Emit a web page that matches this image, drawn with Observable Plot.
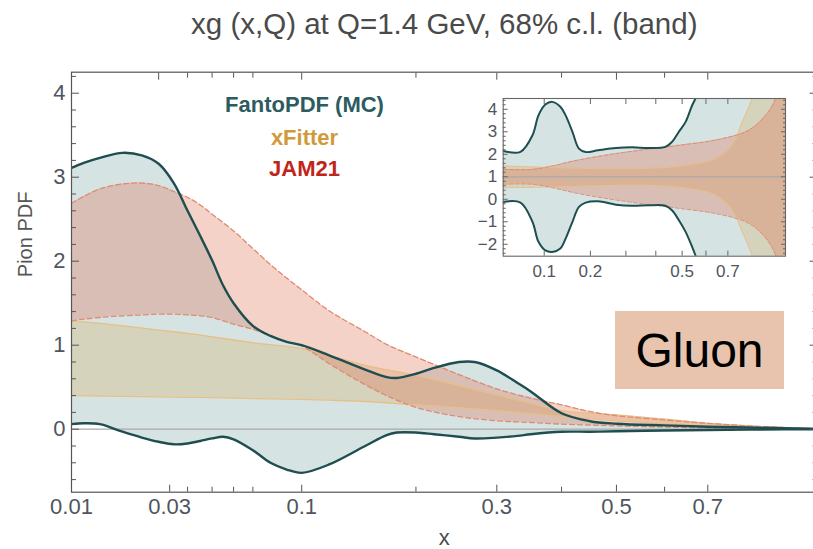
<!DOCTYPE html>
<html>
<head>
<meta charset="utf-8">
<script src="https://cdn.jsdelivr.net/npm/d3@7"></script>
<script src="https://cdn.jsdelivr.net/npm/@observablehq/plot@0.6"></script>
<style>
  body { margin: 0; background: #fff; }
  #chart { position: relative; width: 813px; height: 549px; overflow: hidden; background: #fff;
           font-family: "Liberation Sans", Arial, sans-serif; }
  #chart > svg { position: absolute; left: 0; top: 0; }
  #inset { position: absolute; left: 460px; top: 88px; }
  #inset svg { display: block; }
  #tag { position: absolute; left: 615px; top: 311px; width: 169px; height: 78px; background: #e8c3ad;
         color: #000; font-size: 48px; display: flex; align-items: center; justify-content: center; }
</style>
</head>
<body>
<div id="chart"><div id="inset"></div><div id="tag">Gluon</div></div>
<script>
// ---- Main panel: xg(x,Q) bands, Q = 1.4 GeV ----
const fantoX  = [0.01, 0.012, 0.015, 0.02, 0.025, 0.03, 0.035, 0.04, 0.045, 0.05, 0.055, 0.06, 0.07, 0.08, 0.09, 0.1,
                 0.12, 0.15, 0.17, 0.18, 0.2, 0.22, 0.25, 0.27, 0.3, 0.33, 0.35, 0.4, 0.45, 0.5, 0.6, 0.7, 0.8, 0.9, 1.0];
const fantoHi = [3.11, 3.17, 3.23, 3.29, 3.26, 3.16, 2.93, 2.60, 2.30, 2.01, 1.71, 1.50, 1.23, 1.11, 1.04, 1.00,
                 0.88, 0.71, 0.62, 0.61, 0.66, 0.73, 0.80, 0.80, 0.70, 0.55, 0.45, 0.19, 0.095, 0.065, 0.045, 0.03, 0.02, 0.012, 0.005];
const fantoLo = [0.06, 0.07, 0.06, -0.03, -0.10, -0.15, -0.18, -0.17, -0.14, -0.11, -0.09, -0.12, -0.25, -0.40, -0.48, -0.52,
                 -0.42, -0.20, -0.07, -0.04, -0.04, -0.06, -0.09, -0.11, -0.10, -0.08, -0.06, -0.03, -0.03, -0.025, -0.015, -0.01, -0.005, -0.002, 0];

const xfX  = [0.01, 0.015, 0.02, 0.03, 0.04, 0.05, 0.07, 0.1, 0.12, 0.15, 0.2, 0.25, 0.3, 0.35, 0.4, 0.5, 0.6, 0.7, 0.8, 0.9, 1.0];
const xfHi = [1.29, 1.26, 1.23, 1.18, 1.14, 1.10, 1.03, 0.96, 0.88, 0.76, 0.64, 0.52, 0.41, 0.31, 0.22, 0.17, 0.12, 0.07, 0.04, 0.02, 0.005];
const xfLo = [0.40, 0.395, 0.39, 0.385, 0.38, 0.375, 0.365, 0.355, 0.345, 0.33, 0.29, 0.255, 0.22, 0.185, 0.15, 0.10, 0.065, 0.04, 0.02, 0.01, 0];

const jamX  = [0.01, 0.012, 0.015, 0.02, 0.025, 0.03, 0.035, 0.04, 0.045, 0.05, 0.06, 0.07, 0.08, 0.09, 0.1,
               0.12, 0.15, 0.17, 0.2, 0.25, 0.3, 0.35, 0.4, 0.45, 0.5, 0.6, 0.7, 0.8, 0.9, 1.0];
const jamHi = [2.69, 2.77, 2.86, 2.92, 2.93, 2.90, 2.83, 2.76, 2.67, 2.56, 2.36, 2.15, 1.96, 1.80, 1.66,
               1.41, 1.16, 1.01, 0.86, 0.65, 0.48, 0.37, 0.29, 0.21, 0.16, 0.11, 0.07, 0.04, 0.02, 0.005];
const jamLo = [1.29, 1.31, 1.33, 1.35, 1.36, 1.37, 1.37, 1.36, 1.35, 1.33, 1.25, 1.19, 1.11, 1.04, 0.99,
               0.78, 0.53, 0.40, 0.26, 0.15, 0.10, 0.08, 0.06, 0.05, 0.04, 0.025, 0.015, 0.008, 0.003, 0];

// ---- Inset: bands normalised to the central value ----
const insFantoX  = [0.04, 0.062, 0.08, 0.09, 0.102, 0.115, 0.131, 0.142, 0.157, 0.172, 0.188, 0.22, 0.27, 0.32, 0.375,
                    0.435, 0.46, 0.487, 0.514, 0.541, 0.555, 0.6, 0.7, 0.85, 1.0];
const insFantoHi = [2.15, 2.11, 2.84, 3.73, 4.21, 4.33, 4.11, 3.73, 3.0, 2.25, 2.1, 2.18, 2.28, 2.31, 2.28,
                    2.33, 2.55, 3.0, 3.44, 4.18, 4.48, 5.6, 8, 12, 16];
const insFantoLo = [-0.12, -0.15, -1.0, -1.89, -2.27, -2.34, -2.19, -1.75, -1.0, -0.34, -0.15, -0.09, -0.24, -0.29, -0.27,
                    -0.29, -0.49, -0.93, -1.45, -2.12, -2.5, -3.6, -6, -10, -14];

const insXfX  = [0.04, 0.142, 0.32, 0.5, 0.643, 0.721, 0.77, 0.82, 0.87, 1.0];
const insXfHi = [1.48, 1.39, 1.36, 1.48, 1.81, 2.4, 3.44, 4.48, 6, 12];
const insXfLo = [0.51, 0.56, 0.62, 0.51, 0.18, -0.49, -1.45, -2.5, -4, -10];

const insJamX  = [0.04, 0.08, 0.115, 0.157, 0.24, 0.344, 0.487, 0.662, 0.803, 0.891, 0.944, 1.0];
const insJamHi = [1.33, 1.33, 1.48, 1.69, 1.96, 2.18, 2.40, 2.67, 3.07, 3.73, 4.48, 7];
const insJamLo = [0.67, 0.67, 0.52, 0.31, 0.04, -0.18, -0.40, -0.67, -1.07, -1.73, -2.48, -5];

// ---- Axis ticks and labels ----
const xTickLabels   = [0.01, 0.1, 0.3, 0.5, 0.7];
const xTickShifted  = [0.03];
const xMinorTicks   = [0.04, 0.05, 0.06, 0.07, 0.2, 0.4, 0.6];
const yTickLabels   = [0, 1, 2, 3, 4];
const insXTickLabels = [0.1, 0.2, 0.5, 0.7];
const insXMinorTicks = [0.3, 0.4, 0.6];
const insYTickLabels = [-2, -1, 0, 1, 2, 3, 4];
const legendNames = ["FantoPDF (MC)", "xFitter", "JAM21"];
const titleText = "xg (x,Q) at Q=1.4 GeV, 68% c.l. (band)";

const C = {
  fantoFill: "#8fb3b3", fantoLine: "#1f4e50",
  xfFill: "#d6b067", xfLine: "#e8bf86",
  jamFill: "#de6948", jamLine: "#df8a72",
  frame: "#555", tickText: "#4f5560", zero: "#a9a9a9",
  legend: ["#2c5b60", "#d09a3a", "#c0251a"]
};
const FONT = "Liberation Sans, Arial, sans-serif";

const band = (xs, lo, hi) => xs.map((x, i) => ({x, lo: lo[i], hi: hi[i]}));
const fanto = band(fantoX, fantoLo, fantoHi);
const xf = band(xfX, xfLo, xfHi);
const jam = band(jamX, jamLo, jamHi);
const insFanto = band(insFantoX, insFantoLo, insFantoHi);
const insXf = band(insXfX, insXfLo, insXfHi);
const insJam = band(insJamX, insJamLo, insJamHi);

const minorY = (lo, hi, step) => d3.range(Math.round(lo / step), Math.round(hi / step) + 1)
  .map(k => +(k * step).toFixed(3)).filter(v => Math.abs(v - Math.round(v)) > 1e-6);
const fmtNum = d => d < 0 ? "\u2212" + (-d) : String(d);
const blank = () => "";
const curve = "catmull-rom";

function bandMarks(data, fill, opacity, clip) {
  return Plot.areaY(data, {x: "x", y1: "lo", y2: "hi", fill, fillOpacity: opacity, curve, clip});
}
function edgeMarks(data, stroke, width, dash, clip) {
  return ["lo", "hi"].map(k => Plot.lineY(data, {x: "x", y: k, stroke, strokeWidth: width,
    strokeDasharray: dash, curve, clip}));
}

// ---- Main chart ----
const main = Plot.plot({
  width: 813, height: 549,
  marginLeft: 71, marginRight: -3.6, marginTop: 71.7, marginBottom: 57.3,
  style: {fontFamily: FONT, background: "transparent", overflow: "visible"},
  x: {type: "pow", exponent: 0.35, domain: [0.01, 1]},
  y: {domain: [-0.75, 4.25]},
  marks: [
    bandMarks(fanto, C.fantoFill, 0.37, true),
    bandMarks(xf, C.xfFill, 0.3, true),
    bandMarks(jam, C.jamFill, 0.3, true),
    Plot.ruleY([0], {stroke: C.zero, strokeWidth: 1.3}),
    ...edgeMarks(xf, C.xfLine, 1.3, null, true),
    ...edgeMarks(jam, C.jamLine, 1.3, "5,3", true),
    ...edgeMarks(fanto, C.fantoLine, 2.4, null, true),
    Plot.frame({stroke: C.frame, strokeWidth: 1.2}),
    Plot.axisY({anchor: "left", ticks: yTickLabels, tickSize: -8, tickPadding: 14, tickFormat: fmtNum,
      fontSize: 22, color: C.tickText, stroke: C.frame, label: null}),
    Plot.axisY({anchor: "left", ticks: minorY(-0.6, 4.2, 0.2), tickSize: -5, tickFormat: blank, stroke: C.frame, label: null}),
    Plot.axisY({anchor: "right", ticks: yTickLabels, tickSize: -8, tickFormat: blank, stroke: C.frame, label: null}),
    Plot.axisY({anchor: "right", ticks: minorY(-0.6, 4.2, 0.2), tickSize: -5, tickFormat: blank, stroke: C.frame, label: null}),
    Plot.axisX({anchor: "bottom", ticks: xTickLabels, tickSize: -7, tickPadding: 13, tickFormat: String,
      fontSize: 22, color: C.tickText, stroke: C.frame, label: null}),
    Plot.axisX({anchor: "bottom", ticks: xTickShifted, tickSize: -7, tickPadding: 13, tickFormat: String,
      fontSize: 22, color: C.tickText, stroke: C.frame, dx: 11, label: null}),
    Plot.axisX({anchor: "bottom", ticks: xMinorTicks, tickSize: -5, tickFormat: blank, stroke: C.frame, label: null}),
    Plot.axisX({anchor: "top", ticks: [...xTickLabels, ...xTickShifted], tickSize: -7, tickFormat: blank, stroke: C.frame, label: null}),
    Plot.axisX({anchor: "top", ticks: xMinorTicks, tickSize: -5, tickFormat: blank, stroke: C.frame, label: null}),
    // title and axis titles
    Plot.text([titleText], {text: d => d, frameAnchor: "top", dy: -38.5, lineAnchor: "bottom",
      fontSize: 29.5, fill: "#4a4a4a"}),
    Plot.text(["x"], {text: d => d, frameAnchor: "bottom", dy: 53, lineAnchor: "bottom",
      fontSize: 22, fill: "#4a4a4a"}),
    Plot.text(["Pion PDF"], {text: d => d, frameAnchor: "left", dx: -46, dy: -5, rotate: -90,
      fontSize: 20, fill: "#555"}),
    // legend
    ...legendNames.map((name, i) => Plot.text([name], {text: d => d, frameAnchor: "top-left",
      dx: 233, dy: [40, 73, 103.3][i], lineAnchor: "bottom", textAnchor: "middle",
      fontSize: 22, fontWeight: "bold", fill: C.legend[i]}))
  ]
});
document.getElementById("chart").prepend(main);

// ---- Inset chart ----
const inset = Plot.plot({
  width: 340, height: 200,
  marginLeft: 42.7, marginRight: 15, marginTop: 10, marginBottom: 32.3,
  style: {fontFamily: FONT, background: "transparent", overflow: "visible"},
  x: {type: "pow", exponent: 0.5, domain: [0.04, 1]},
  y: {domain: [-2.53, 4.48]},
  marks: [
    Plot.frame({fill: "white"}),
    bandMarks(insFanto, C.fantoFill, 0.37, true),
    bandMarks(insXf, C.xfFill, 0.3, true),
    bandMarks(insJam, C.jamFill, 0.3, true),
    Plot.ruleY([1], {stroke: C.zero, strokeWidth: 1.2}),
    ...edgeMarks(insXf, C.xfLine, 1, null, true),
    ...edgeMarks(insJam, C.jamLine, 1, "4,2", true),
    ...edgeMarks(insFanto, C.fantoLine, 2, null, true),
    Plot.frame({stroke: "#666", strokeWidth: 1.1}),
    Plot.axisY({anchor: "left", ticks: insYTickLabels, tickSize: -5, tickPadding: 11, tickFormat: fmtNum,
      fontSize: 17, color: C.tickText, stroke: "#666", label: null}),
    Plot.axisY({anchor: "left", ticks: minorY(-2.4, 4.4, 0.2), tickSize: -3, tickFormat: blank, stroke: "#666", label: null}),
    Plot.axisY({anchor: "right", ticks: insYTickLabels, tickSize: -5, tickFormat: blank, stroke: "#666", label: null}),
    Plot.axisY({anchor: "right", ticks: minorY(-2.4, 4.4, 0.2), tickSize: -3, tickFormat: blank, stroke: "#666", label: null}),
    Plot.axisX({anchor: "bottom", ticks: insXTickLabels, tickSize: -5, tickPadding: 14, tickFormat: String,
      fontSize: 17, color: C.tickText, stroke: "#666", label: null}),
    Plot.axisX({anchor: "bottom", ticks: insXMinorTicks, tickSize: -5, tickFormat: blank, stroke: "#666", label: null}),
    Plot.axisX({anchor: "top", ticks: [...insXTickLabels, ...insXMinorTicks], tickSize: -5, tickFormat: blank, stroke: "#666", label: null})
  ]
});
document.getElementById("inset").append(inset);
</script>
</body>
</html>
